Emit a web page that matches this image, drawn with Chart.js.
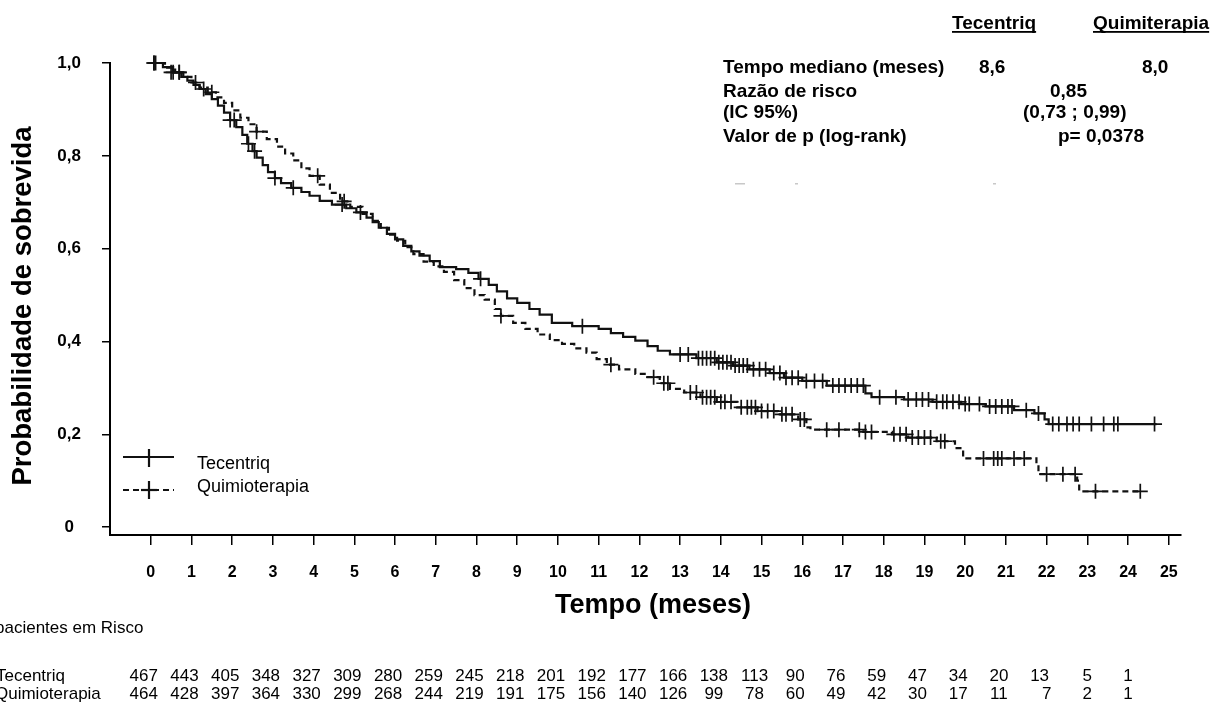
<!DOCTYPE html>
<html><head><meta charset="utf-8">
<script src="https://cdn.jsdelivr.net/npm/chart.js@4/dist/chart.umd.min.js"></script>
<style>html,body{margin:0;padding:0;background:#fff;overflow:hidden}canvas{display:block}</style>
</head><body>
<canvas id="c" width="1212" height="705"></canvas>
<script>
// ---------- DATA ----------
const seriesNames = ['Tecentriq', 'Quimioterapia'];

// Kaplan-Meier steps [months, survival]
const tecentriqSteps = [
[0,1.0],[0.3,0.991],[0.55,0.98],[0.75,0.97],[0.9,0.962],[1.05,0.953],[1.2,0.944],[1.35,0.933],[1.5,0.922],[1.65,0.908],[1.8,0.893],[1.95,0.877],[2.1,0.862],[2.25,0.845],[2.37,0.826],[2.5,0.81],[2.6,0.796],[2.75,0.78],[2.88,0.765],[3.05,0.752],[3.2,0.741],[3.45,0.731],[3.7,0.722],[3.9,0.714],[4.15,0.703],[4.45,0.695],[4.8,0.687],[5.05,0.678],[5.3,0.667],[5.45,0.657],[5.6,0.645],[5.8,0.632],[6.0,0.62],[6.2,0.606],[6.4,0.594],[6.6,0.585],[6.85,0.573],[7.1,0.56],[7.5,0.556],[7.8,0.548],[8.05,0.535],[8.3,0.522],[8.5,0.508],[8.75,0.493],[9.0,0.483],[9.3,0.47],[9.55,0.458],[9.85,0.44],[10.35,0.433],[11.0,0.427],[11.3,0.418],[11.6,0.41],[11.9,0.402],[12.2,0.39],[12.45,0.38],[12.75,0.372],[13.4,0.364],[13.9,0.355],[14.3,0.348],[14.7,0.34],[15.2,0.332],[15.55,0.322],[16.0,0.315],[16.6,0.305],[17.55,0.288],[17.7,0.28],[18.5,0.275],[19.2,0.27],[19.9,0.265],[20.5,0.26],[21.2,0.252],[21.7,0.245],[21.95,0.232],[22.05,0.222],[24.7,0.222]
];
const quimioSteps = [
[0,1.0],[0.35,0.99],[0.6,0.98],[0.8,0.97],[1.0,0.958],[1.2,0.947],[1.4,0.937],[1.6,0.926],[1.8,0.914],[2.0,0.898],[2.2,0.882],[2.4,0.868],[2.6,0.852],[2.85,0.836],[3.1,0.82],[3.3,0.805],[3.5,0.79],[3.7,0.773],[3.9,0.757],[4.15,0.738],[4.4,0.72],[4.65,0.702],[4.9,0.69],[5.2,0.675],[5.45,0.66],[5.65,0.645],[5.85,0.63],[6.05,0.617],[6.25,0.603],[6.45,0.588],[6.7,0.572],[6.95,0.562],[7.2,0.55],[7.45,0.532],[7.7,0.515],[7.95,0.5],[8.2,0.49],[8.45,0.47],[8.6,0.455],[8.9,0.44],[9.2,0.427],[9.5,0.415],[9.8,0.403],[10.1,0.395],[10.4,0.385],[10.7,0.376],[10.95,0.362],[11.2,0.35],[11.5,0.34],[11.9,0.33],[12.2,0.323],[12.5,0.31],[12.75,0.298],[13.1,0.29],[13.5,0.28],[13.9,0.27],[14.4,0.258],[14.9,0.25],[15.4,0.243],[15.9,0.232],[16.1,0.215],[16.2,0.21],[17.5,0.205],[18.2,0.2],[18.6,0.193],[19.3,0.185],[19.75,0.17],[19.95,0.148],[21.75,0.135],[21.8,0.114],[22.75,0.1],[22.8,0.077],[24.35,0.077]
];

// censored observations [months, survival]
const tecentriqCensors = [
[0.08,1.0],[0.12,1.0],[0.55,0.98],[0.7,0.98],[1.3,0.944],[1.95,0.877],[2.05,0.877],[2.4,0.826],[2.55,0.81],[3.05,0.752],[3.5,0.731],[4.7,0.695],[5.15,0.678],[8.1,0.535],[10.6,0.433],
[13.0,0.372],[13.2,0.372],[13.45,0.364],[13.55,0.364],[13.65,0.364],[13.75,0.364],[13.85,0.364],[13.95,0.355],[14.05,0.355],[14.15,0.355],[14.25,0.355],[14.35,0.348],[14.45,0.348],[14.55,0.348],[14.65,0.348],[14.8,0.34],[14.95,0.34],[15.1,0.34],[15.3,0.332],[15.45,0.332],[15.6,0.322],[15.75,0.322],[15.9,0.322],[16.1,0.315],[16.3,0.315],[16.5,0.315],[16.75,0.305],[16.9,0.305],[17.05,0.305],[17.2,0.305],[17.35,0.305],[17.5,0.305],[17.9,0.28],[18.3,0.28],[18.6,0.275],[18.8,0.275],[18.95,0.275],[19.1,0.275],[19.3,0.27],[19.45,0.27],[19.55,0.27],[19.7,0.27],[19.85,0.27],[20.0,0.265],[20.1,0.265],[20.35,0.265],[20.6,0.26],[20.75,0.26],[20.9,0.26],[21.05,0.26],[21.15,0.26],[21.5,0.252],[21.8,0.245],[22.15,0.222],[22.3,0.222],[22.5,0.222],[22.65,0.222],[22.8,0.222],[23.1,0.222],[23.4,0.222],[23.65,0.222],[23.75,0.222],[24.65,0.222]
];
const quimioCensors = [
[0.08,1.0],[0.5,0.98],[0.7,0.98],[1.1,0.958],[1.5,0.937],[2.6,0.852],[4.1,0.757],[4.75,0.702],[8.6,0.455],[11.3,0.35],[12.35,0.323],[12.6,0.31],[12.7,0.31],[13.25,0.29],[13.4,0.29],[13.55,0.28],[13.65,0.28],[13.75,0.28],[13.85,0.28],[14.0,0.27],[14.1,0.27],[14.25,0.27],[14.5,0.258],[14.65,0.258],[14.75,0.258],[14.85,0.258],[15.0,0.25],[15.15,0.25],[15.3,0.25],[15.5,0.243],[15.6,0.243],[15.75,0.243],[15.95,0.232],[16.05,0.232],[16.6,0.21],[16.9,0.21],[17.4,0.21],[17.55,0.205],[17.7,0.205],[18.25,0.2],[18.4,0.2],[18.55,0.2],[18.7,0.193],[18.85,0.193],[19.0,0.193],[19.15,0.193],[19.4,0.185],[19.5,0.185],[20.45,0.148],[20.7,0.148],[20.8,0.148],[20.9,0.148],[21.2,0.148],[21.45,0.148],[22.0,0.114],[22.4,0.114],[22.7,0.114],[23.2,0.077],[24.3,0.077]
];

const xTicks = [0,1,2,3,4,5,6,7,8,9,10,11,12,13,14,15,16,17,18,19,20,21,22,23,24,25];
const xTickLabels = ['0','1','2','3','4','5','6','7','8','9','10','11','12','13','14','15','16','17','18','19','20','21','22','23','24','25'];
const yTicks = [0, 0.2, 0.4, 0.6, 0.8, 1.0];
const yTickLabels = ['0', '0,2', '0,4', '0,6', '0,8', '1,0'];
const xTitle = 'Tempo (meses)';
const yTitle = 'Probabilidade de sobrevida';

// numbers at risk
const riskTitle = 'pacientes em Risco';
const riskTimes = [0,1,2,3,4,5,6,7,8,9,10,11,12,13,14,15,16,17,18,19,20,21,22,23,24];
const riskTecentriq = [467,443,405,348,327,309,280,259,245,218,201,192,177,166,138,113,90,76,59,47,34,20,13,5,1];
const riskQuimio = [464,428,397,364,330,299,268,244,219,191,175,156,140,126,99,78,60,49,42,30,17,11,7,2,1];

// statistics box
const statsHeaders = ['Tecentriq', 'Quimiterapia'];
const statsLabels = ['Tempo mediano (meses)', 'Razão de risco', '(IC 95%)', 'Valor de p (log-rank)'];
const statsValues = [['8,6', '8,0'], ['0,85'], ['(0,73 ; 0,99)'], ['p= 0,0378']];

// ---------- DRAWING ----------
const FONT = "'Liberation Sans', Arial, Helvetica, sans-serif";
const INK = '#111';
const toXY = arr => arr.map(p => ({x: p[0], y: p[1]}));

const overlay = {
  id: 'overlay',
  afterDraw(chart) {
    const ctx = chart.ctx;
    const xs = chart.scales.x;
    ctx.save();
    ctx.fillStyle = '#000';
    ctx.textBaseline = 'middle';

    // axis titles
    ctx.font = `bold 27px ${FONT}`;
    ctx.textAlign = 'center';
    ctx.fillText(xTitle, 653, 606);
    ctx.save();
    ctx.translate(23, 306);
    ctx.rotate(-Math.PI / 2);
    ctx.font = `bold 27.5px ${FONT}`;
    ctx.fillText(yTitle, 0, 0);
    ctx.restore();

    // legend
    ctx.strokeStyle = INK;
    ctx.lineWidth = 2.2;
    ctx.beginPath(); ctx.moveTo(123, 457); ctx.lineTo(174, 457); ctx.stroke();
    ctx.beginPath(); ctx.moveTo(149, 449); ctx.lineTo(149, 467); ctx.stroke();
    ctx.setLineDash([6, 4]);
    ctx.beginPath(); ctx.moveTo(123, 490); ctx.lineTo(174, 490); ctx.stroke();
    ctx.setLineDash([]);
    ctx.beginPath(); ctx.moveTo(149, 481); ctx.lineTo(149, 499); ctx.stroke();
    ctx.beginPath(); ctx.moveTo(141, 490); ctx.lineTo(157, 490); ctx.stroke();
    ctx.font = `18px ${FONT}`;
    ctx.textAlign = 'left';
    ctx.fillText(seriesNames[0], 197, 464);
    ctx.fillText(seriesNames[1], 197, 487);

    // stats box
    ctx.font = `bold 19px ${FONT}`;
    ctx.textBaseline = 'alphabetic';
    const hx = [952, 1093];
    statsHeaders.forEach((h, i) => {
      ctx.fillText(h, hx[i], 29);
      const w = ctx.measureText(h).width;
      ctx.fillRect(hx[i], 31, w, 1.8);
    });
    ctx.textBaseline = 'middle';
    const rowY = [68, 92, 113, 137];
    const valX = [[979, 1142], [1050], [1023], [1058]];
    statsLabels.forEach((l, i) => {
      ctx.fillText(l, 723, rowY[i]);
      statsValues[i].forEach((v, j) => ctx.fillText(v, valX[i][j], rowY[i]));
    });
    // faint specks
    ctx.fillStyle = '#c8c8c8';
    ctx.fillRect(735, 183, 10, 1.5);
    ctx.fillRect(795, 183, 3, 1.5);
    ctx.fillRect(993, 183, 3, 1.5);

    // numbers at risk
    ctx.fillStyle = '#000';
    ctx.font = `17px ${FONT}`;
    ctx.textAlign = 'left';
    ctx.fillText(riskTitle, -5, 628);
    ctx.fillText(seriesNames[0], -4, 676);
    ctx.fillText(seriesNames[1], -5, 694);
    ctx.textAlign = 'center';
    riskTimes.forEach((t, i) => {
      const x = xs.getPixelForValue(t);
      const a = String(riskTecentriq[i]), b = String(riskQuimio[i]);
      ctx.fillText(a, x - (a.length > 1 ? 7 : 0), 676);
      ctx.fillText(b, x - (b.length > 1 ? 7 : 0), 694);
    });
    ctx.restore();
  }
};

const curveCommon = {showLine: true, stepped: true, borderColor: INK, borderWidth: 2.2, pointRadius: 0, fill: false, clip: false};
const censorCommon = {showLine: false, pointStyle: 'cross', pointRadius: 7.5, pointBorderWidth: 1.7, borderColor: INK, pointBorderColor: INK, clip: false};

new Chart(document.getElementById('c'), {
  type: 'scatter',
  data: {
    datasets: [
      Object.assign({label: seriesNames[0], data: toXY(tecentriqSteps)}, curveCommon),
      Object.assign({label: seriesNames[1], data: toXY(quimioSteps), borderDash: [6, 4]}, curveCommon),
      Object.assign({label: seriesNames[0] + ' +', data: toXY(tecentriqCensors)}, censorCommon),
      Object.assign({label: seriesNames[1] + ' +', data: toXY(quimioCensors)}, censorCommon)
    ]
  },
  options: {
    responsive: false,
    animation: false,
    devicePixelRatio: 1,
    events: [],
    layout: {padding: {top: 63, right: 31, left: 0, bottom: 0}},
    plugins: {legend: {display: false}, tooltip: {enabled: false}, title: {display: false}},
    scales: {
      x: {
        type: 'linear', min: -1, max: 25.3,
        afterFit(s) { s.height = 170; },
        afterBuildTicks(s) { s.ticks = xTicks.map(v => ({value: v})); },
        grid: {display: true, drawOnChartArea: false, drawTicks: true, tickLength: 10, color: '#000', lineWidth: 1.5},
        border: {display: true, color: '#000', width: 2},
        ticks: {padding: 18, color: '#000', autoSkip: false, maxRotation: 0,
          font: {family: FONT, size: 16, weight: 'bold'},
          callback: (v, i) => xTickLabels[i]}
      },
      y: {
        type: 'linear', min: -0.017, max: 1.0,
        afterFit(s) { s.width = 110; },
        afterBuildTicks(s) { s.ticks = yTicks.map(v => ({value: v})); },
        grid: {display: true, drawOnChartArea: false, drawTicks: true, tickLength: 8, color: '#000', lineWidth: 1.5},
        border: {display: true, color: '#000', width: 2},
        ticks: {padding: 21, color: '#000', crossAlign: 'center',
          font: {family: FONT, size: 17, weight: 'bold'},
          callback: (v, i) => yTickLabels[i]}
      }
    }
  },
  plugins: [overlay]
});
</script>
</body></html>
